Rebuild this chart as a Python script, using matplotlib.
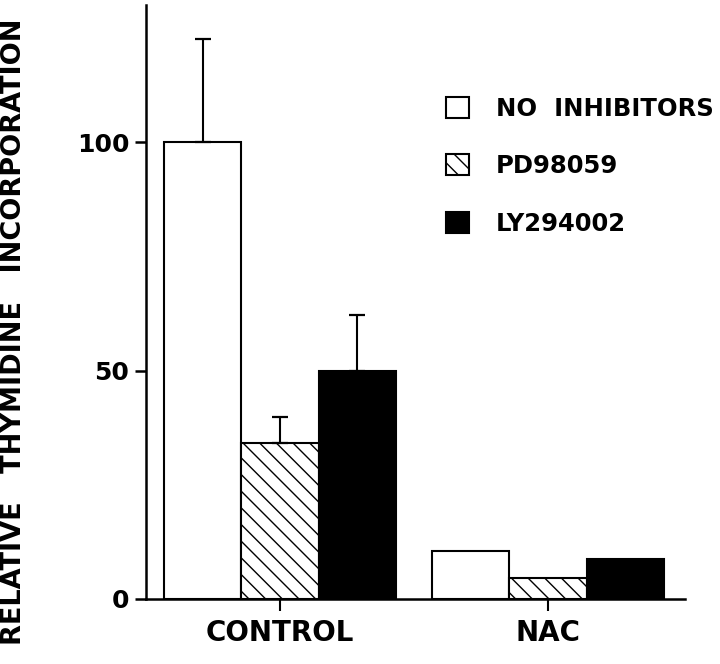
import numpy as np
import matplotlib
matplotlib.use("Agg")
import matplotlib.pyplot as plt

groups = ["CONTROL", "NAC"]
series = ["NO  INHIBITORS", "PD98059", "LY294002"]
no_inhib = [100, 10.4]
pd98059 = [34.2, 4.5]
ly294002 = [50, 8.75]
# upward error (only control group has error bars)
no_inhib_err = [22.5, 0]
pd98059_err = [5.7, 0]
ly294002_err = [12.1, 0]

plt.rcParams['font.family'] = ['DejaVu Sans']
plt.rcParams['font.weight'] = 'bold'
plt.rcParams['hatch.linewidth'] = 1.0

fig = plt.figure(figsize=(7.2, 6.64), dpi=100)
ax = fig.add_axes([146/720, 1 - 599/664, (685 - 146)/720, (599 - 5)/664])

centers = np.array([0, 3.46])
w = 1.0
styles = [dict(color='white', hatch=None),
          dict(color='white', hatch='\\\\'),
          dict(color='black', hatch=None)]
vals = [no_inhib, pd98059, ly294002]
errs = [no_inhib_err, pd98059_err, ly294002_err]

handles = []
for i, (v, e, st) in enumerate(zip(vals, errs, styles)):
    x = centers + (i - 1) * w
    b = ax.bar(x, v, width=w, facecolor=st['color'], edgecolor='black',
               linewidth=1.5, hatch=st['hatch'], zorder=2)
    handles.append(b)
    ax.errorbar(x[:1], v[:1], yerr=[[0], e[:1]], fmt='none', ecolor='black',
                elinewidth=1.5, capsize=5.5, capthick=1.6, zorder=3)

ax.set_xlim(-1.73, 5.23)
ax.set_ylim(0, 130)
ax.set_xticks(centers)
ax.set_xticklabels(groups, fontsize=20, fontweight='bold')
ax.set_yticks([0, 50, 100])
ax.set_yticklabels(['0', '50', '100'], fontsize=18, fontweight='bold')

for s in ['top', 'right']:
    ax.spines[s].set_visible(False)
for s in ['left', 'bottom']:
    ax.spines[s].set_linewidth(1.8)
ax.tick_params(axis='y', length=8, width=1.8, pad=4)
ax.tick_params(axis='x', length=8.5, width=1.5, pad=6)

ax.set_ylabel("RELATIVE   THYMIDINE   INCORPORATION", fontsize=19.5, fontweight='bold')
ax.yaxis.set_label_coords((27 - 146)/539, (599 - 332)/594)

ax.legend(handles=handles, labels=series, loc='upper left',
          bbox_to_anchor=((446 - 146)/539, (599 - 97)/594),
          frameon=False, borderpad=0, borderaxespad=0,
          handlelength=0.95, handleheight=0.95, handletextpad=1.1,
          labelspacing=1.37, prop=dict(size=17.5, weight='bold'))

fig.savefig("out.png", dpi=100)
